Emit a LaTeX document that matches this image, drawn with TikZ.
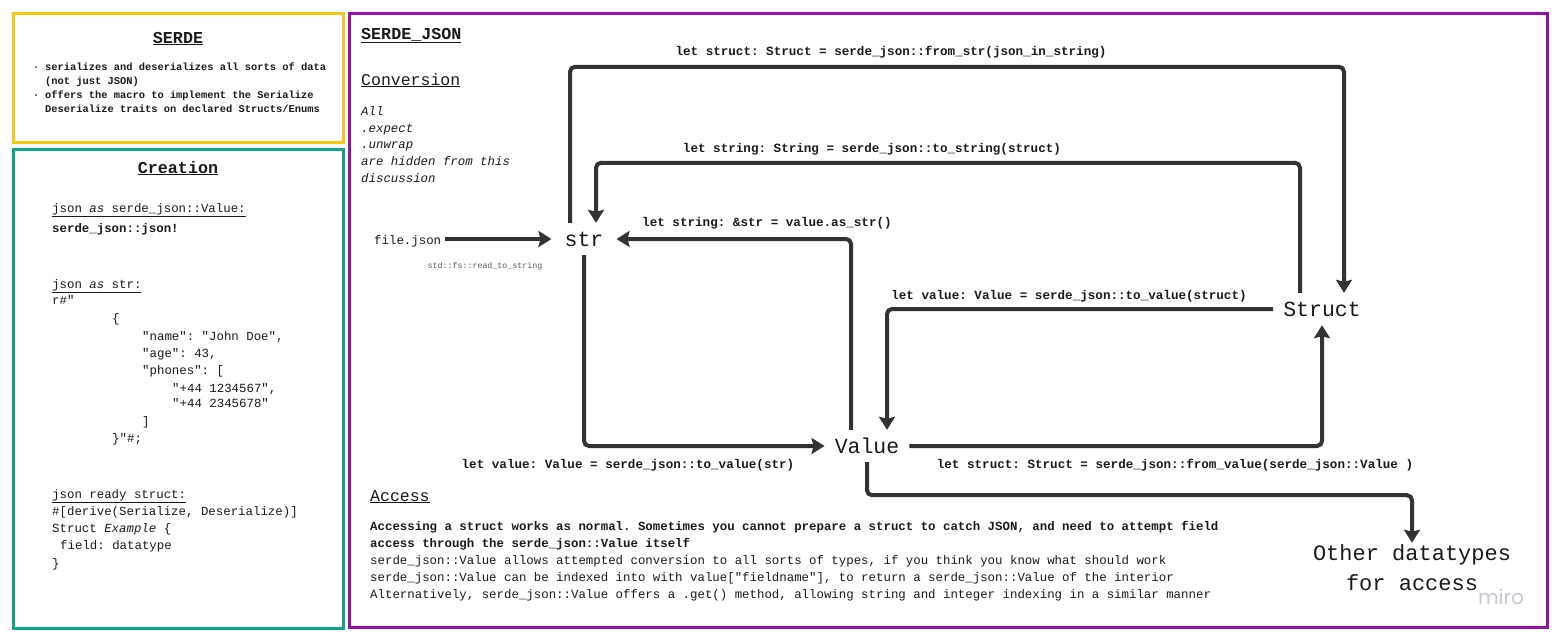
\documentclass[tikz,border=0pt]{standalone}
\usepackage{fontspec}
\setmonofont{Liberation Mono}
\newfontfamily\mirofont{Poppins}
\usetikzlibrary{positioning, arrows.meta}
\definecolor{serdeyellow}{HTML}{FAC710}
\definecolor{creategreen}{HTML}{0CA789}
\definecolor{jsonpurple}{HTML}{9510AC}
\definecolor{arrowgrey}{HTML}{333333}
\definecolor{textblack}{HTML}{1A1A1A}
\definecolor{mirogrey}{HTML}{C9C7D6}

\begin{document}
\begin{tikzpicture}[
    x=1pt, y=-1pt,
    every node/.style={inner sep=0pt, text=textblack},
    panel/.style={line width=3pt},
    paneltitle/.style={anchor=base, font=\ttfamily\bfseries\fontsize{16.7}{20}\selectfont},
    heading/.style={anchor=base west, font=\ttfamily\fontsize{16.5}{20}\selectfont},
    code/.style={anchor=base west, font=\ttfamily\fontsize{12.4}{17}\selectfont},
    codebold/.style={code, font=\ttfamily\bfseries\fontsize{12.4}{17}\selectfont},
    note/.style={code, font=\ttfamily\itshape\fontsize{12.4}{17}\selectfont},
    bullet/.style={anchor=base west, font=\ttfamily\bfseries\fontsize{10.4}{14}\selectfont},
    hint/.style={anchor=base, text=black!65, font=\ttfamily\fontsize{8.3}{10}\selectfont},
    datatype/.style={font=\ttfamily\fontsize{21.5}{30}\selectfont, inner xsep=10pt, minimum height=32pt, text height=14pt, text depth=0pt},
    conv/.style={anchor=base, font=\ttfamily\bfseries\fontsize{12.6}{17}\selectfont},
    arrow/.style={-{Stealth[width=16pt,length=13pt,inset=2pt]}, line width=4pt, draw=arrowgrey, rounded corners=5pt}
]
\useasboundingbox (0,0) rectangle (1560,640);

% panels
\draw[panel, draw=serdeyellow] (13,13) rectangle (343,142);
\draw[panel, draw=creategreen] (13,149) rectangle (343,628);
\draw[panel, draw=jsonpurple] (349,13) rectangle (1547,627);

% serde
\node[paneltitle] (serde) at (178,43) {\underline{SERDE}};
\node[bullet] (dot1) at (33,70) {·};
\node[bullet] (serde1) at (45,70) {serializes and deserializes all sorts of data};
\node[bullet] (serde2) at (45,84) {(not just JSON)};
\node[bullet] (dot2) at (33,98) {·};
\node[bullet] (serde3) at (45,98) {offers the macro to implement the Serialize};
\node[bullet] (serde4) at (45,112) {Deserialize traits on declared Structs/Enums};

% creation
\node[paneltitle] (creation) at (178,173) {\underline{Creation}};
\node[code] (asvalue) at (52,212) {\underline{json \textit{as} serde\_json::Value:}};
\node[codebold] (macro) at (52,232) {serde\_json::json!};
\foreach \y/\x/\t [count=\i] in {
    288/52/{\underline{json \textit{as} str:}},
    304/52/{r\#"},
    322/112/{\{},
    340/142/{"name": "John Doe",},
    357/142/{"age": 43,},
    374/142/{"phones": [},
    392/172/{"+44 1234567",},
    407/172/{"+44 2345678"},
    425/142/{]},
    442/112/{\}"\#;},
    498/52/{\underline{json ready struct:}},
    515/52/{\#[derive(Serialize, Deserialize)]},
    532/52/{Struct \textit{Example} \{},
    549/60/{field: datatype},
    567/52/{\}}}
    \node[code] (crea\i) at (\x,\y) {\t};

% serde_json
\node[paneltitle, anchor=base west] (serdejson) at (361,39) {\underline{SERDE\_JSON}};
\node[heading] (conversion) at (361,85) {\underline{Conversion}};
\foreach \y/\t [count=\i] in {115/All, 132/.expect, 148/.unwrap, 165/are hidden from this, 182/discussion}
    \node[note] (hidden\i) at (361,\y) {\t};

\node[datatype, inner xsep=13pt] (str) at (584,239) {str};
\node[datatype] (value) at (867,446) {Value};
\node[datatype] (struct) at (1322,309) {Struct};
\node[align=center, font=\ttfamily\fontsize{22}{30}\selectfont] (other) at (1412,568) {Other datatypes\\for access};
\node[code] (filejson) at (374,244) {file.json};
\node[hint] (readfs) at (485,268) {std::fs::read\_to\_string};

\draw[arrow] ([xshift=4pt]filejson.east |- str.west) -- (str.west);
\draw[arrow] ([xshift=-14pt]str.north) -- ++(0,-156) -| ([xshift=22pt]struct.north);
\draw[arrow] ([xshift=-22pt]struct.north) -- ++(0,-130) -| ([xshift=12pt]str.north);
\draw[arrow] ([xshift=-16pt]value.north) |- (str.east);
\draw[arrow] (str.south) |- (value.west);
\draw[arrow] (struct.west) -| ([xshift=20pt]value.north);
\draw[arrow] (value.east) -| (struct.south);
\draw[arrow] (value.south) -- ++(0,33) -| ([yshift=2pt]other.north);

\node[conv] (fromstr) at (891,55) {let struct: Struct = serde\_json::from\_str(json\_in\_string)};
\node[conv] (tostring) at (872,152) {let string: String = serde\_json::to\_string(struct)};
\node[conv] (asstr) at (767,226) {let string: \&str = value.as\_str()};
\node[conv] (tovaluestruct) at (1069,299) {let value: Value = serde\_json::to\_value(struct)};
\node[conv] (tovaluestr) at (628,468) {let value: Value = serde\_json::to\_value(str)};
\node[conv] (fromvalue) at (1175,468) {let struct: Struct = serde\_json::from\_value(serde\_json::Value )};

% access
\node[heading] (access) at (370,501) {\underline{Access}};
\node[codebold] (acc1) at (370,530) {Accessing a struct works as normal. Sometimes you cannot prepare a struct to catch JSON, and need to attempt field};
\node[codebold] (acc2) at (370,547) {access through the serde\_json::Value itself};
\node[code] (acc3) at (370,564) {serde\_json::Value allows attempted conversion to all sorts of types, if you think you know what should work};
\node[code] (acc4) at (370,581) {serde\_json::Value can be indexed into with value["fieldname"], to return a serde\_json::Value of the interior};
\node[code] (acc5) at (370,598) {Alternatively, serde\_json::Value offers a .get() method, allowing string and integer indexing in a similar manner};

\node[anchor=base, text=mirogrey, font=\mirofont\fontsize{20}{24}\selectfont] (miro) at (1501,604) {miro};
\end{tikzpicture}
\end{document}
